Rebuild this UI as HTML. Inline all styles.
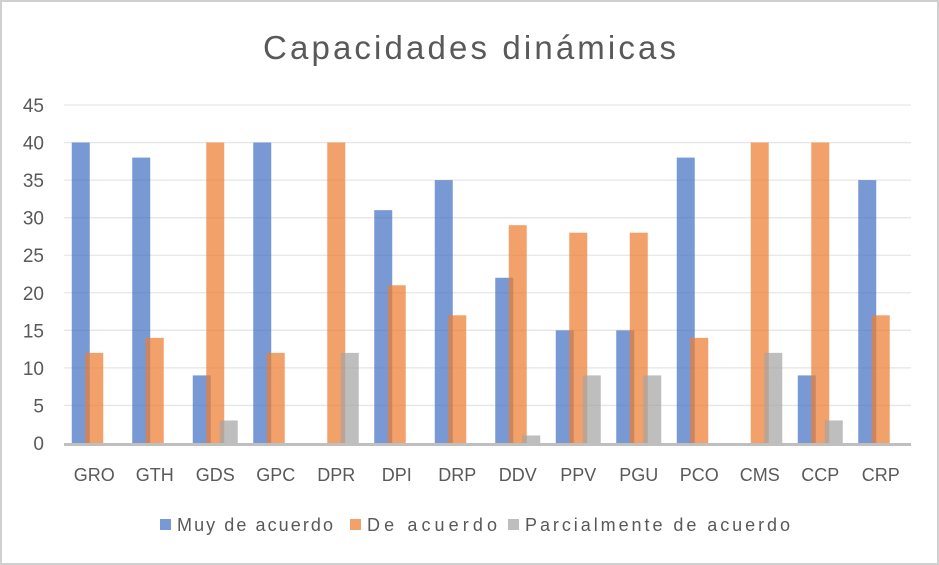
<!DOCTYPE html>
<html><head><meta charset="utf-8"><style>
html,body{margin:0;padding:0;background:#fff;}
svg{display:block;font-family:"Liberation Sans",sans-serif;}
</style></head><body>
<svg id="chart" width="939" height="565">
<rect x="1" y="1" width="937" height="563" fill="#fff" stroke="#d0d0d0" stroke-width="2"/>
<text x="263" y="59" font-size="33" fill="#595959" textLength="413" lengthAdjust="spacing">Capacidades dinámicas</text>
<g id="grid"></g><g id="bars"></g><g id="axes"></g>
<g id="legend">
<rect x="160" y="519" width="11" height="11" fill="#4472c4" opacity="0.72"/>
<text x="177" y="531" font-size="18" fill="#595959" textLength="156" lengthAdjust="spacing">Muy de acuerdo</text>
<rect x="350" y="519" width="11" height="11" fill="#ed7d31" opacity="0.72"/>
<text x="367" y="531" font-size="18" fill="#595959" textLength="130" lengthAdjust="spacing">De acuerdo</text>
<rect x="508" y="519" width="11" height="11" fill="#a5a5a5" opacity="0.72"/>
<text x="525" y="531" font-size="18" fill="#595959" textLength="265" lengthAdjust="spacing">Parcialmente de acuerdo</text>
</g>
</svg>
<script>
const categories=["GRO","GTH","GDS","GPC","DPR","DPI","DRP","DDV","PPV","PGU","PCO","CMS","CCP","CRP"];
const muyDeAcuerdo=[40,38,9,40,0,31,35,22,15,15,38,0,9,35];
const deAcuerdo=[12,14,40,12,40,21,17,29,28,28,14,40,40,17];
const parcialmente=[0,0,3,0,12,0,0,1,9,9,0,12,3,0];
const yTicks=[0,5,10,15,20,25,30,35,40,45];
const NS="http://www.w3.org/2000/svg";
const x0=64,x1=911,y0=443,yTop=105,yMax=45;
const bw=(x1-x0)/categories.length;
const y=v=>y0-(v/yMax)*(y0-yTop);
const grid=document.getElementById('grid'),bars=document.getElementById('bars'),axes=document.getElementById('axes');
function mk(tag,attrs,parent){const e=document.createElementNS(NS,tag);for(const k in attrs)e.setAttribute(k,attrs[k]);parent.appendChild(e);return e;}
yTicks.forEach(t=>{
  if(t>0){const l=mk('line',{x1:x0,x2:x1,y1:y(t),y2:y(t),stroke:'#e6e6e6','stroke-width':1.3},grid);
  
  }
  const tx=mk('text',{x:44,y:y(t)+7,'text-anchor':'end','font-size':19,fill:'#595959'},axes);
  tx.textContent=t;
  
  
});
const series=[[muyDeAcuerdo,'#4472c4','muy'],[deAcuerdo,'#ed7d31','de'],[parcialmente,'#a5a5a5','parcial']];
const w=18,step=13.5;
categories.forEach((c,i)=>{
  const cx=x0+bw*(i+0.5);
  const start=cx-(2*step+w)/2;
  series.forEach((s,j)=>{
    const v=s[0][i];
    const r=mk('rect',{x:start+j*step,y:y(v),width:w,height:y0-y(v),fill:s[1],opacity:0.72},bars);
    
    
  });
  const tx=mk('text',{x:cx,y:481,'text-anchor':'middle','font-size':18,fill:'#595959'},axes);
  tx.textContent=c;
  
  
});
const ax=mk('line',{x1:x0,x2:x1,y1:y0+1.5,y2:y0+1.5,stroke:'#bfbfbf','stroke-width':3},axes);


</script>
</body></html>
